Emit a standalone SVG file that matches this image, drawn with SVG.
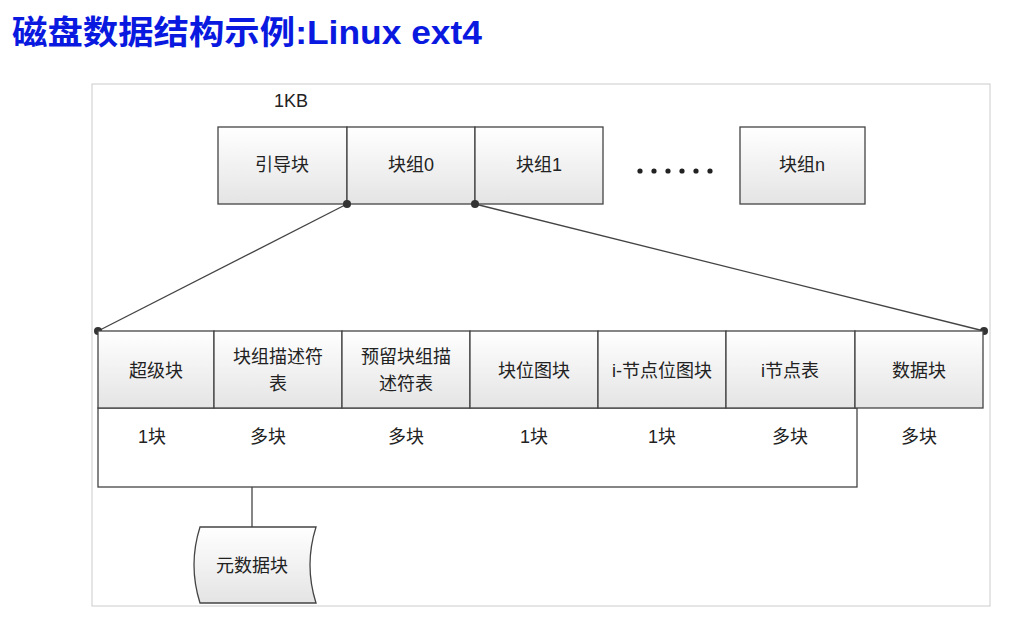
<svg xmlns="http://www.w3.org/2000/svg" width="1019" height="630" viewBox="0 0 1019 630">
<defs>
<linearGradient id="g" x1="0" y1="0" x2="0" y2="1"><stop offset="0" stop-color="#ffffff"/><stop offset="1" stop-color="#e4e4e4"/></linearGradient>
</defs>
<style>
.b{fill:url(#g);stroke:#444;stroke-width:1.3}
.t{font-family:"Liberation Sans","Noto Sans CJK SC",sans-serif;font-size:18px;fill:#222;text-anchor:middle}
.l{stroke:#444;stroke-width:1.3;fill:none}
</style>
<rect width="1019" height="630" fill="#fff"/>
<text x="12" y="44" font-family="Liberation Sans,'Noto Sans CJK SC',sans-serif" font-size="33" font-weight="bold" fill="#0a19e0" textLength="470" lengthAdjust="spacingAndGlyphs">磁盘数据结构示例:Linux ext4</text>
<rect x="92" y="84" width="898" height="522" fill="none" stroke="#ccc"/>
<text class="t" x="291" y="107" font-size="15">1KB</text>
<g id="top">
<rect class="b" x="218" y="127" width="129" height="77"/><text class="t" x="282" y="171">引导块</text>
<rect class="b" x="347" y="127" width="128" height="77"/><text class="t" x="411" y="171">块组0</text>
<rect class="b" x="475" y="127" width="128" height="77"/><text class="t" x="539" y="171">块组1</text>
<g fill="#222"><circle cx="640" cy="171" r="2.6"/><circle cx="654" cy="171" r="2.6"/><circle cx="668" cy="171" r="2.6"/><circle cx="682" cy="171" r="2.6"/><circle cx="696" cy="171" r="2.6"/><circle cx="710" cy="171" r="2.6"/></g>
<rect class="b" x="740" y="127" width="125" height="77"/><text class="t" x="802" y="171">块组n</text>
</g>
<g id="connectors">
<line class="l" x1="347" y1="204" x2="98" y2="331"/>
<line class="l" x1="475" y1="204" x2="984" y2="331"/>
<line class="l" x1="252" y1="487" x2="252" y2="527"/>
<circle cx="347" cy="204" r="4" fill="#333"/><circle cx="475" cy="204" r="4" fill="#333"/>
<circle cx="98" cy="331" r="4" fill="#333"/><circle cx="984" cy="331" r="4" fill="#333"/>
</g>
<g id="row">
<rect class="l" x="98" y="408" width="759" height="79"/>
<rect class="b" x="98" y="331" width="116" height="77"/><text class="t" x="156" y="377">超级块</text>
<rect class="b" x="214" y="331" width="128" height="77"/><text class="t" x="278" y="363">块组描述符</text><text class="t" x="278" y="390">表</text>
<rect class="b" x="342" y="331" width="128" height="77"/><text class="t" x="406" y="363">预留块组描</text><text class="t" x="406" y="390">述符表</text>
<rect class="b" x="470" y="331" width="128" height="77"/><text class="t" x="534" y="377">块位图块</text>
<rect class="b" x="598" y="331" width="128" height="77"/><text class="t" x="662" y="377">i-节点位图块</text>
<rect class="b" x="726" y="331" width="129" height="77"/><text class="t" x="790" y="377">i节点表</text>
<rect class="b" x="855" y="331" width="128" height="77"/><text class="t" x="919" y="377">数据块</text>
<text class="t" x="152" y="443">1块</text><text class="t" x="268" y="443">多块</text><text class="t" x="406" y="443">多块</text>
<text class="t" x="534" y="443">1块</text><text class="t" x="662" y="443">1块</text><text class="t" x="790" y="443">多块</text><text class="t" x="919" y="443">多块</text>
</g>
<g id="meta">
<path class="b" d="M200 527 H316 Q304 565 316 603 H200 Q188 565 200 527 Z"/>
<text class="t" x="252" y="572">元数据块</text>
</g>
</svg>
